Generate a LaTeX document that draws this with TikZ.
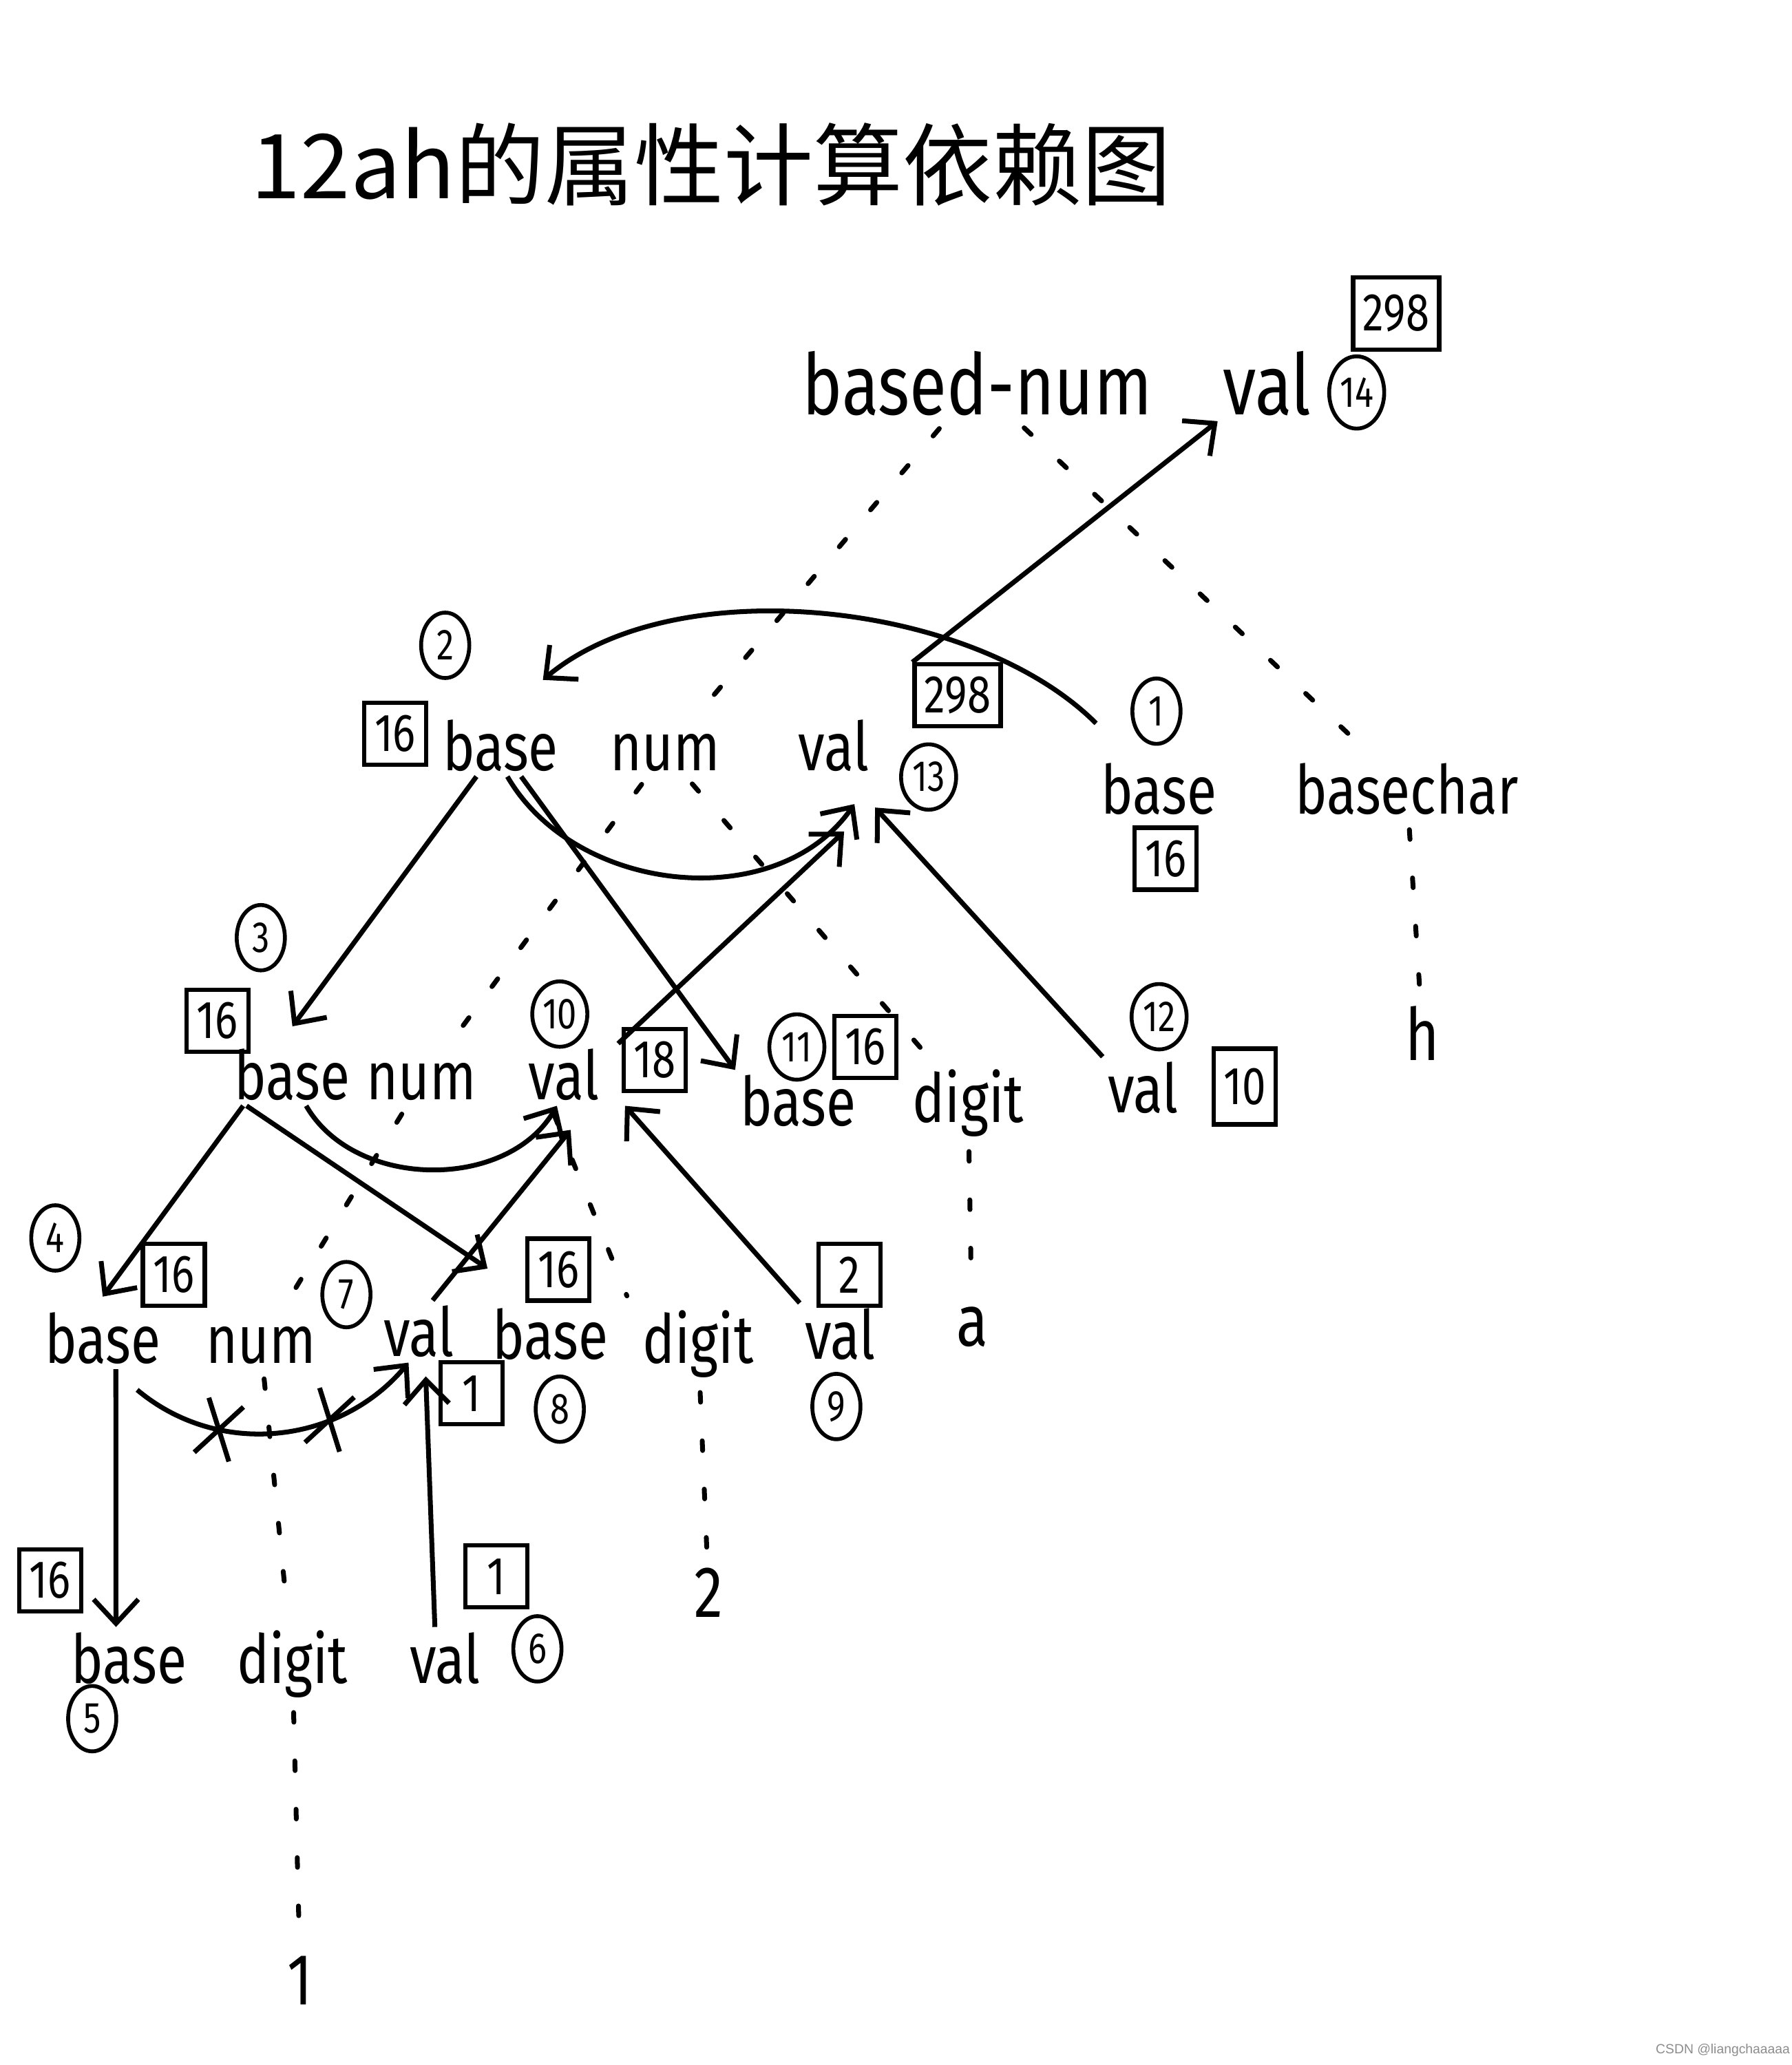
\documentclass[tikz,border=0pt]{standalone}
\usepackage{fontspec}
\setmainfont{Fira Sans}[FakeStretch=0.8]
\newfontfamily\cjkfont{Noto Sans CJK SC}
\newfontfamily\markfont{Liberation Sans}
\usetikzlibrary{arrows.meta, shapes.geometric, shapes.misc}
\tikzset{
	attr/.style={font=\fontsize{28}{30}\selectfont, inner sep=2pt, anchor=base},
	topattr/.style={font=\fontsize{35}{40}\selectfont, inner sep=2pt, anchor=base},
	leaf/.style={font=\fontsize{30}{32}\selectfont, inner sep=3pt, anchor=base},
	vbox/.style={draw, line width=1.8pt, font=\fontsize{22}{24}\selectfont,
		inner sep=2pt, minimum width=0.9cm, minimum height=0.9cm},
	ord/.style={ellipse, draw, line width=1.6pt, font=\fontsize{18}{20}\selectfont,
		inner sep=0pt, minimum width=0.7cm, minimum height=0.95cm},
	dep/.style={-{Straight Barb[length=3.5mm, width=6.5mm]}, line width=2pt},
	tree/.style={line width=2pt, line cap=round, dash pattern=on 4pt off 16pt,
		shorten <=4pt, shorten >=4pt},
	xmark/.style={cross out, draw, line width=2pt, minimum width=0.45cm,
		minimum height=0.75cm, inner sep=0pt, rotate=-15}
}

\begin{document}
\begin{tikzpicture}[x=0.01913cm, y=0.01913cm]
	\useasboundingbox (0,0) rectangle (1360,-1568);

	% title
	\node[font=\cjkfont\fontsize{37}{40}\selectfont] (title) at (540,-125) {12ah的属性计算依赖图};

	% based-num
	\node[topattr] (bnname) at (742,-315) {based-num};
	\node[topattr] (bnval) at (962,-315) {val};
	\node[vbox, minimum width=1.25cm, minimum height=1.05cm] (bnvbox) at (1060,-238) {298};
	\node[ord, minimum width=0.8cm, minimum height=1.05cm] (bnord) at (1030,-298) {14};

	% num (level 2)
	\node[attr] (nAbase) at (380,-585) {base};
	\node[attr] (nAname) at (505,-585) {num};
	\node[attr] (nAval) at (633,-585) {val};
	\node[vbox] (nAbox) at (300,-557) {16};
	\node[ord] (nAord) at (338,-490) {2};
	\node[vbox, minimum width=1.25cm] (nAvbox) at (727,-528) {298};
	\node[ord, minimum width=0.8cm] (nAvord) at (705,-590) {13};

	% basechar
	\node[attr] (bcbase) at (880,-618) {base};
	\node[attr] (bcname) at (1068,-618) {basechar};
	\node[ord] (bcord) at (878,-540) {1};
	\node[vbox] (bcbox) at (885,-652) {16};
	\node[leaf] (hleaf) at (1080,-805) {h};

	% num (level 3)
	\node[attr] (nBbase) at (222,-835) {base};
	\node[attr] (nBname) at (320,-835) {num};
	\node[attr] (nBval) at (428,-835) {val};
	\node[ord] (nBord) at (198,-712) {3};
	\node[vbox] (nBbox) at (165,-775) {16};
	\node[ord, minimum width=0.8cm] (nBvord) at (425,-770) {10};
	\node[vbox] (nBvbox) at (497,-805) {18};

	% digit (level 3)
	\node[attr] (dAbase) at (606,-855) {base};
	\node[attr] (dAname) at (735,-852) {digit};
	\node[attr] (dAval) at (868,-845) {val};
	\node[ord, minimum width=0.8cm] (dAord) at (605,-795) {11};
	\node[vbox] (dAbox) at (657,-795) {16};
	\node[ord, minimum width=0.8cm] (dAvord) at (880,-772) {12};
	\node[vbox, minimum height=1.1cm] (dAvbox) at (945,-825) {10};
	\node[leaf] (leafa) at (738,-1022) {a};

	% num (level 4)
	\node[attr] (nCbase) at (78,-1035) {base};
	\node[attr] (nCname) at (198,-1035) {num};
	\node[attr] (nCval) at (318,-1030) {val};
	\node[ord] (nCord) at (42,-940) {4};
	\node[vbox] (nCbox) at (132,-968) {16};
	\node[ord] (nCvord) at (263,-983) {7};
	\node[vbox] (nCvbox) at (358,-1058) {1};

	% digit (level 4)
	\node[attr] (dBbase) at (418,-1032) {base};
	\node[attr] (dBname) at (530,-1035) {digit};
	\node[attr] (dBval) at (638,-1032) {val};
	\node[vbox] (dBbox) at (424,-964) {16};
	\node[ord] (dBord) at (425,-1070) {8};
	\node[vbox] (dBvbox) at (645,-968) {2};
	\node[ord] (dBvord) at (635,-1068) {9};
	\node[leaf] (leaftwo) at (538,-1228) {2};

	% digit (level 5)
	\node[attr] (dCbase) at (98,-1278) {base};
	\node[attr] (dCname) at (222,-1278) {digit};
	\node[attr] (dCval) at (338,-1278) {val};
	\node[vbox] (dCbox) at (38,-1200) {16};
	\node[ord] (dCord) at (70,-1305) {5};
	\node[vbox] (dCvbox) at (377,-1197) {1};
	\node[ord] (dCvord) at (408,-1252) {6};
	\node[leaf] (leafone) at (228,-1522) {1};

	% parse tree
	\draw[tree] (bnname) -- (nAname);
	\draw[tree] (bnname) -- (bcname);
	\draw[tree] (bcname) -- (hleaf);
	\draw[tree] (nAname) -- (nBname);
	\draw[tree] (nAname) -- (dAname);
	\draw[tree] (dAname) -- (leafa);
	\draw[tree] (nBname) -- (nCname);
	\draw[tree] ([xshift=1cm]nBname.south east) -- ([xshift=-0.1cm]dBname.north west);
	\draw[tree] (dBname) -- (leaftwo);
	\draw[tree] (nCname) -- (dCname);
	\draw[tree] (dCname) -- (leafone);

	% dependencies
	\draw[dep] ([yshift=0.5cm]bcbase.north west) to[out=135, in=40, looseness=0.8]
		([xshift=-0.3cm, yshift=0.5cm]nAbase.north east);
	\draw[dep] ([xshift=-0.35cm]nAbase.south) -- ([yshift=0.25cm]nBbase.north);
	\draw[dep] ([xshift=0.3cm]nAbase.south) -- (dAbase.north west);
	\draw[dep] ([xshift=0.1cm]nAbase.south) to[out=-60, in=-125]
		([xshift=0.3cm, yshift=-0.4cm]nAval.south);
	\draw[dep] ([xshift=0.2cm]nBval.north east) -- ([xshift=0.15cm, yshift=-0.8cm]nAval.south);
	\draw[dep] (dAval.north west) -- ([xshift=0.6cm, yshift=-0.45cm]nAval.south);
	\draw[dep] (nAvbox.north west) -- (bnval.south west);

	\draw[dep] ([xshift=0.2cm]nBbase.south) to[out=-60, in=-120] ([xshift=-0.1cm]nBval.south);
	\draw[dep] ([xshift=0.2cm]nBbase.south west) -- ([yshift=0.15cm]nCbase.north);
	\draw[dep] ([xshift=0.25cm]nBbase.south west) -- ([yshift=0.5cm]dBbase.north west);
	\draw[dep] ([xshift=0.2cm]nCval.north) -- ([xshift=0.1cm, yshift=-0.35cm]nBval.south);
	\draw[dep] (dBval.north west) -- ([xshift=0.3cm]nBval.south east);

	\draw[dep] ([xshift=0.19cm]nCbase.south) -- ([xshift=-0.19cm]dCbase.north);
	\draw[dep] ([xshift=0.5cm, yshift=-0.3cm]nCbase.south) to[out=-40, in=-130]
		node[xmark, pos=0.3] {} node[xmark, pos=0.68] {}
		([xshift=-0.15cm]nCval.south);
	\draw[dep] ([xshift=-0.15cm]dCval.north) -- ([xshift=0.1cm, yshift=-0.2cm]nCval.south);

	% watermark
	\node[font=\markfont\fontsize{5.5}{6}\selectfont, text=black!45] (mark) at (1308,-1557) {CSDN @liangchaaaaa};
\end{tikzpicture}
\end{document}
